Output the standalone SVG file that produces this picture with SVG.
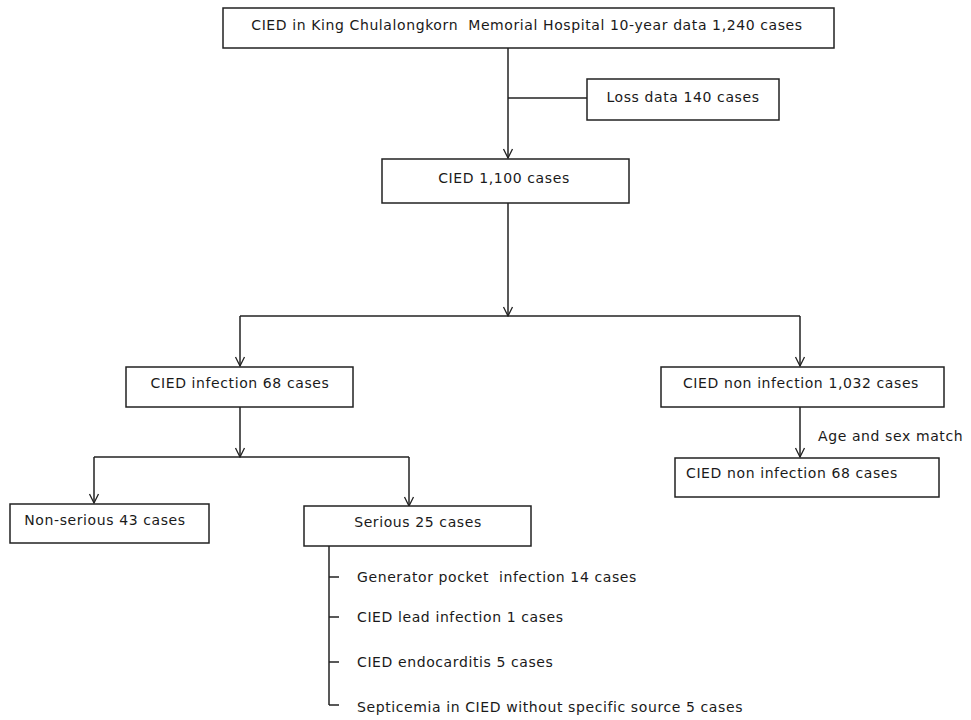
<svg xmlns="http://www.w3.org/2000/svg" width="971" height="720" viewBox="0 0 971 720">
<defs>
<marker id="arr" viewBox="0 0 12 12" refX="11" refY="6" markerWidth="12" markerHeight="12" markerUnits="userSpaceOnUse" orient="auto">
<polyline points="2,1.5 11,6 2,10.5" fill="none" stroke="#222" stroke-width="1.3"/>
</marker>
</defs>
<style>
rect{fill:#fff;stroke:#222;stroke-width:1.5}
text{font-family:"DejaVu Sans",Verdana,sans-serif;font-size:14px;letter-spacing:0.6px;fill:#1a1a1a}
.c{text-anchor:middle}
#connectors line{stroke:#222;stroke-width:1.5;fill:none}
</style>
<rect width="971" height="720" style="fill:#fff;stroke:none"/>
<g id="connectors">
<line x1="508" y1="48" x2="508" y2="158" marker-end="url(#arr)"/>
<line x1="508" y1="98" x2="587" y2="98"/>
<line x1="508" y1="203" x2="508" y2="316" marker-end="url(#arr)"/>
<line x1="240" y1="316" x2="800" y2="316"/>
<line x1="240" y1="316" x2="240" y2="366" marker-end="url(#arr)"/>
<line x1="800" y1="316" x2="800" y2="366" marker-end="url(#arr)"/>
<line x1="240" y1="407" x2="240" y2="457" marker-end="url(#arr)"/>
<line x1="94" y1="457" x2="409" y2="457"/>
<line x1="94" y1="457" x2="94" y2="503" marker-end="url(#arr)"/>
<line x1="409" y1="457" x2="409" y2="506" marker-end="url(#arr)"/>
<line x1="800" y1="407" x2="800" y2="457" marker-end="url(#arr)"/>
<line x1="329" y1="546" x2="329" y2="705"/>
<line x1="329" y1="577" x2="339" y2="577"/>
<line x1="329" y1="617" x2="339" y2="617"/>
<line x1="329" y1="662" x2="339" y2="662"/>
<line x1="329" y1="705" x2="339" y2="705"/>
</g>
<g id="n-total"><rect x="223" y="8" width="611" height="40"/><text x="527" y="30" class="c" xml:space="preserve">CIED in King Chulalongkorn  Memorial Hospital 10-year data 1,240 cases</text></g>
<g id="n-loss"><rect x="587" y="79" width="192" height="41"/><text x="683" y="102" class="c">Loss data 140 cases</text></g>
<g id="n-cied"><rect x="382" y="159" width="247" height="44"/><text x="504" y="183" class="c">CIED 1,100 cases</text></g>
<g id="n-inf"><rect x="126" y="367" width="227" height="40"/><text x="240" y="388" class="c">CIED infection 68 cases</text></g>
<g id="n-noninf"><rect x="661" y="367" width="283" height="40"/><text x="801" y="388" class="c">CIED non infection 1,032 cases</text></g>
<g id="n-match"><text x="818" y="441">Age and sex match</text></g>
<g id="n-noninf68"><rect x="675" y="458" width="264" height="39"/><text x="792" y="478" class="c">CIED non infection 68 cases</text></g>
<g id="n-nonserious"><rect x="10" y="504" width="199" height="39"/><text x="105" y="525" class="c">Non-serious 43 cases</text></g>
<g id="n-serious"><rect x="304" y="506" width="227" height="40"/><text x="418" y="527" class="c">Serious 25 cases</text></g>
<g id="n-sub">
<text x="357" y="582" xml:space="preserve">Generator pocket  infection 14 cases</text>
<text x="357" y="622">CIED lead infection 1 cases</text>
<text x="357" y="667">CIED endocarditis 5 cases</text>
<text x="357" y="712">Septicemia in CIED without specific source 5 cases</text>
</g>
</svg>
